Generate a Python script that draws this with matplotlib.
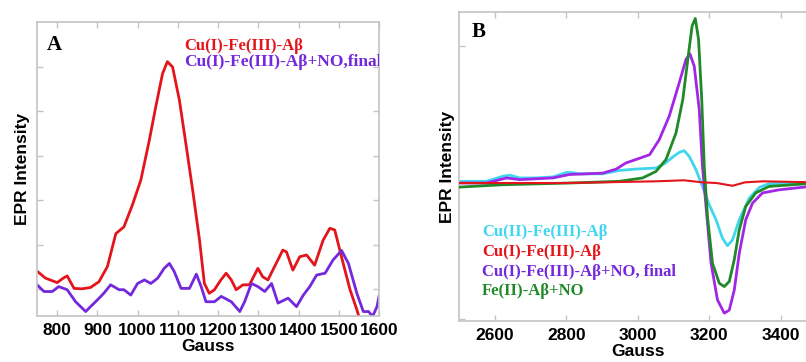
import matplotlib
matplotlib.use("Agg")
import matplotlib.pyplot as plt

# panel A: low-field region (Fe(III))
gauss_a_red = [747, 771, 800, 817, 825, 842, 862, 883, 904, 925, 946, 966, 987, 1008,
               1029, 1045, 1062, 1074, 1087, 1104, 1120, 1137, 1154, 1166, 1178, 1191,
               1207, 1220, 1233, 1245, 1262, 1278, 1299, 1311, 1324, 1336, 1361, 1370,
               1386, 1403, 1420, 1440, 1461, 1478, 1490, 1511, 1528, 1545, 1556]
red_a = [1.43, 1.25, 1.15, 1.26, 1.30, 1.02, 1.01, 1.04, 1.17, 1.51, 2.25, 2.40, 2.89, 3.45,
         4.34, 5.09, 5.84, 6.11, 5.99, 5.24, 4.27, 3.22, 2.10, 1.13, 0.91, 0.99,
         1.21, 1.36, 1.21, 0.99, 1.10, 1.10, 1.47, 1.28, 1.21, 1.43, 1.88, 1.84,
         1.43, 1.73, 1.77, 1.54, 2.10, 2.37, 2.33, 1.58, 0.99, 0.54, 0.2]

gauss_a_pur = [747, 767, 788, 804, 825, 846, 871, 883, 900, 916, 933, 954, 966, 983, 1000,
               1017, 1033, 1050, 1066, 1079, 1091, 1108, 1129, 1146, 1158, 1170, 1191,
               1208, 1233, 1254, 1266, 1283, 1299, 1316, 1333, 1349, 1374, 1395, 1412,
               1428, 1445, 1466, 1486, 1507, 1524, 1545, 1561, 1574, 1584, 1595, 1600]
pur_a = [1.13, 0.95, 0.95, 1.06, 0.99, 0.72, 0.50, 0.61, 0.76, 0.91, 1.10, 0.99, 0.99, 0.87, 1.13,
         1.21, 1.13, 1.25, 1.47, 1.58, 1.40, 1.02, 1.02, 1.34, 1.06, 0.72, 0.72,
         0.84, 0.72, 0.50, 0.72, 1.13, 1.06, 0.95, 1.13, 0.69, 0.80, 0.61, 0.87,
         1.06, 1.32, 1.36, 1.66, 1.87, 1.58, 0.91, 0.50, 0.50, 0.39, 0.61, 0.84]

# panel B: g~2 region
gauss_cyan = [2500, 2577, 2623, 2642, 2670, 2716, 2763, 2800, 2814, 2837, 2902, 2949, 2995,
              3051, 3075, 3100, 3116, 3130, 3144, 3163, 3181, 3200, 3219, 3237, 3251, 3265,
              3284, 3312, 3340, 3367, 3500]
cyan_b = [0.03, 0.03, 0.18, 0.21, 0.13, 0.13, 0.16, 0.29, 0.29, 0.25, 0.25, 0.35, 0.39,
          0.42, 0.55, 0.76, 0.88, 0.93, 0.76, 0.37, -0.12, -0.66, -1.10, -1.64, -1.86, -1.69,
          -1.10, -0.46, -0.15, -0.04, 0.0]

gauss_red = [2500, 2800, 3050, 3130, 3180, 3220, 3265, 3300, 3350, 3500]
red_b = [-0.02, -0.02, 0.03, 0.06, 0.0, -0.02, -0.10, 0.0, 0.03, 0.0]

gauss_pur = [2500, 2577, 2633, 2670, 2763, 2809, 2902, 2940, 2967, 2995, 3033, 3060, 3088,
             3116, 3135, 3146, 3158, 3172, 3181, 3191, 3205, 3223, 3242, 3256, 3270,
             3284, 3302, 3321, 3349, 3395, 3500]
pur_b = [-0.02, -0.02, 0.13, 0.08, 0.13, 0.23, 0.27, 0.39, 0.57, 0.67, 0.81, 1.25, 1.94,
         2.92, 3.61, 3.77, 3.41, 2.14, 0.47, -0.71, -2.37, -3.45, -3.84, -3.75, -3.16,
         -2.08, -1.10, -0.61, -0.31, -0.22, -0.10]

gauss_grn = [2500, 2623, 2809, 2949, 3014, 3051, 3079, 3107, 3126, 3140, 3152, 3161, 3170,
             3179, 3186, 3195, 3209, 3228, 3242, 3256, 3270, 3284, 3302, 3330, 3367, 3500]
grn_b = [-0.14, -0.07, -0.02, 0.03, 0.13, 0.32, 0.67, 1.45, 2.43, 3.61, 4.59, 4.81, 4.20,
         2.43, 0.47, -1.00, -2.37, -2.96, -3.06, -2.91, -2.27, -1.39, -0.71, -0.31, -0.12, -0.02]

labels_a = ["Cu(I)-Fe(III)-Aβ", "Cu(I)-Fe(III)-Aβ+NO,final"]
labels_b = ["Cu(II)-Fe(III)-Aβ", "Cu(I)-Fe(III)-Aβ", "Cu(I)-Fe(III)-Aβ+NO, final", "Fe(II)-Aβ+NO"]

RED = "#e3151b"
VIOLET = "#7428dc"
CYAN = "#3fd6ee"
MAGENTA = "#a326e6"
GREEN = "#1f8a27"
GREY = "#c4c4c4"

plt.rcParams["font.family"] = ["Liberation Sans", "DejaVu Sans"]
serif = ["Liberation Serif", "DejaVu Serif"]

fig = plt.figure(figsize=(8.06, 3.62), dpi=100)
ax1 = fig.add_axes([37 / 806, 1 - 316 / 362, 342 / 806, 294 / 362])
ax2 = fig.add_axes([459 / 806, 1 - 321 / 362, 357.5 / 806, 309 / 362])


def style(ax):
    for s in ax.spines.values():
        s.set_color(GREY)
        s.set_linewidth(1.2)
    ax.tick_params(direction="in", color=GREY, length=4, width=1, top=True, right=True,
                   labelsize=12.5, pad=5)
    for lab in ax.get_xticklabels():
        lab.set_fontweight("bold")
    ax.set_yticklabels([])
    ax.set_xlabel("Gauss", fontsize=12.5, fontweight="bold", labelpad=1)
    ax.set_ylabel("EPR Intensity", fontsize=12.5, fontweight="bold")


ax1.plot(gauss_a_red, red_a, color=RED, lw=2)
ax1.plot(gauss_a_pur, pur_a, color=VIOLET, lw=2)
ax1.set_xlim(750, 1600)
ax1.set_ylim(0.4, 7.0)
ax1.set_xticks(range(800, 1601, 100))
ax1.set_yticks([1, 2, 3, 4, 5, 6])
style(ax1)
ax1.yaxis.set_label_coords(-0.02, 0.5)
ax1.text(0.028, 0.922, "A", transform=ax1.transAxes, fontsize=15, fontweight="bold",
         family=serif, va="center")
ax1.text(0.43, 0.918, labels_a[0], transform=ax1.transAxes, fontsize=12, fontweight="bold",
         family=serif, color=RED, va="center")
ax1.text(0.43, 0.864, labels_a[1], transform=ax1.transAxes, fontsize=12.5, fontweight="bold",
         family=serif, color=VIOLET, va="center", clip_on=True)

ax2.plot(gauss_cyan, cyan_b, color=CYAN, lw=2, zorder=1)
ax2.plot(gauss_pur, pur_b, color=MAGENTA, lw=2, zorder=2)
ax2.plot(gauss_grn, grn_b, color=GREEN, lw=2, zorder=3)
ax2.plot(gauss_red, red_b, color=RED, lw=1.5, zorder=4)
ax2.set_xlim(2500, 3500)
ax2.set_ylim(-4.07, 5.0)
ax2.set_xticks([2600, 2800, 3000, 3200, 3400])
ax2.set_yticks([-4, 0, 4])
style(ax2)
ax2.yaxis.set_label_coords(-0.011, 0.5)
ax2.text(0.034, 0.935, "B", transform=ax2.transAxes, fontsize=15, fontweight="bold",
         family=serif, va="center")
colors_b = [CYAN, RED, VIOLET, GREEN]
for i, (lab, c) in enumerate(zip(labels_b, colors_b)):
    ax2.text(0.064, 0.288 - i * 0.064, lab, transform=ax2.transAxes, fontsize=12,
             fontweight="bold", family=serif, color=c, va="center")

fig.savefig("out.png", dpi=100)
